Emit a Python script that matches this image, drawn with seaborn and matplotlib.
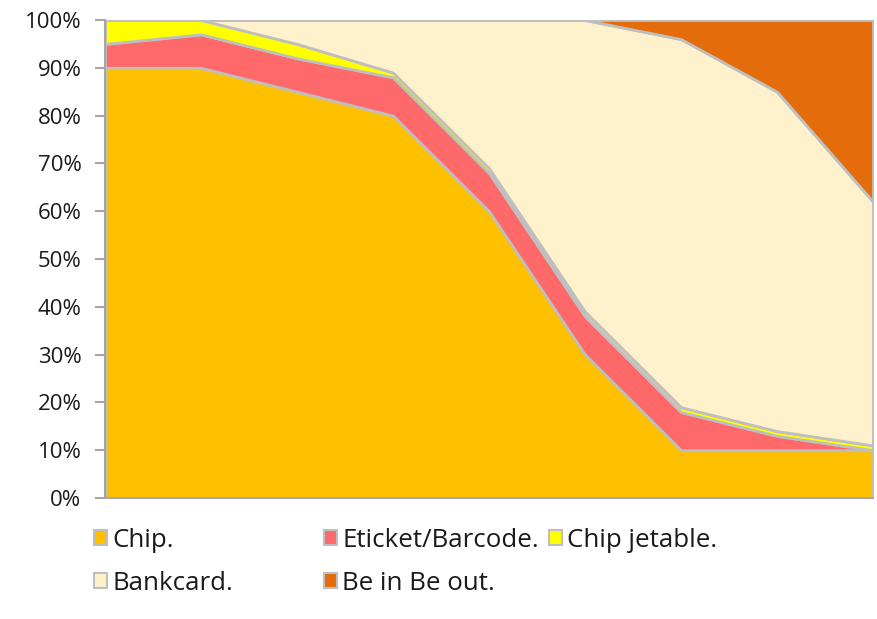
import pandas as pd
import matplotlib.pyplot as plt
import seaborn as sns
from matplotlib.patches import Patch

# ------------------------
# Data (percent share per period)
# ------------------------
periods = list(range(9))
chip = [90, 90, 85, 80, 60, 30, 10, 10, 10]
eticket = [5, 7, 7, 8, 8, 8, 8, 3, 0]
chip_jetable = [5, 3, 3, 1, 1, 1, 1, 1, 1]
bankcard = [0, 0, 5, 11, 31, 61, 77, 71, 51]
be_in_be_out = [0, 0, 0, 0, 0, 0, 4, 15, 38]

series_names = ["Chip.", "Eticket/Barcode.", "Chip jetable.", "Bankcard.", "Be in Be out."]
colors = ["#FFC000", "#FF6969", "#FFFF00", "#FFF1CC", "#E46C0A"]
edge_gray = "#BFBFBF"

df = pd.DataFrame({
    "period": periods,
    "Chip.": chip,
    "Eticket/Barcode.": eticket,
    "Chip jetable.": chip_jetable,
    "Bankcard.": bankcard,
    "Be in Be out.": be_in_be_out,
})

sns.set_theme(style="white")
plt.rcParams['font.family'] = ['Open Sans', 'DejaVu Sans']

fig = plt.figure(figsize=(8.77, 6.19), dpi=100)
ax = fig.add_axes([105 / 877, 1 - 498 / 619, 768 / 877, 478 / 619])

ax.stackplot(df["period"], *[df[c] for c in series_names],
             colors=colors, edgecolor=edge_gray, linewidth=2)

ax.set_xlim(0, 8)
ax.set_ylim(0, 100)
ax.set_yticks(range(0, 101, 10))
ax.set_yticklabels([f"{v}%" for v in range(0, 101, 10)], fontsize=16, color="#1a1a1a")
ax.set_xticks([])

for side in ["top", "right"]:
    ax.spines[side].set_visible(False)
for side in ["left", "bottom"]:
    ax.spines[side].set_color("#A6A6A6")
    ax.spines[side].set_linewidth(1.5)
ax.tick_params(axis="y", which="both", left=True, length=7, width=1.5,
               color="#A6A6A6", pad=10)

# ------------------------
# Legend: Excel-style equal-width columns, row-wise order
# ------------------------
handles = [Patch(facecolor=c, edgecolor=edge_gray, linewidth=1.5) for c in colors]
columns = [([0, 3], 94), ([1, 4], 324), ([2], 549)]
for idx, x_px in columns:
    leg = fig.legend([handles[i] for i in idx], [series_names[i] for i in idx],
                     loc="upper left", bbox_to_anchor=(x_px / 877, 1 - 528 / 619),
                     frameon=False, fontsize=18.6, handlelength=0.5, handleheight=0.5,
                     handletextpad=0.2, labelspacing=0.68, borderpad=0, borderaxespad=0)
    for t in leg.get_texts():
        t.set_color("#1a1a1a")

fig.savefig("out.png", dpi=100)
plt.close(fig)
